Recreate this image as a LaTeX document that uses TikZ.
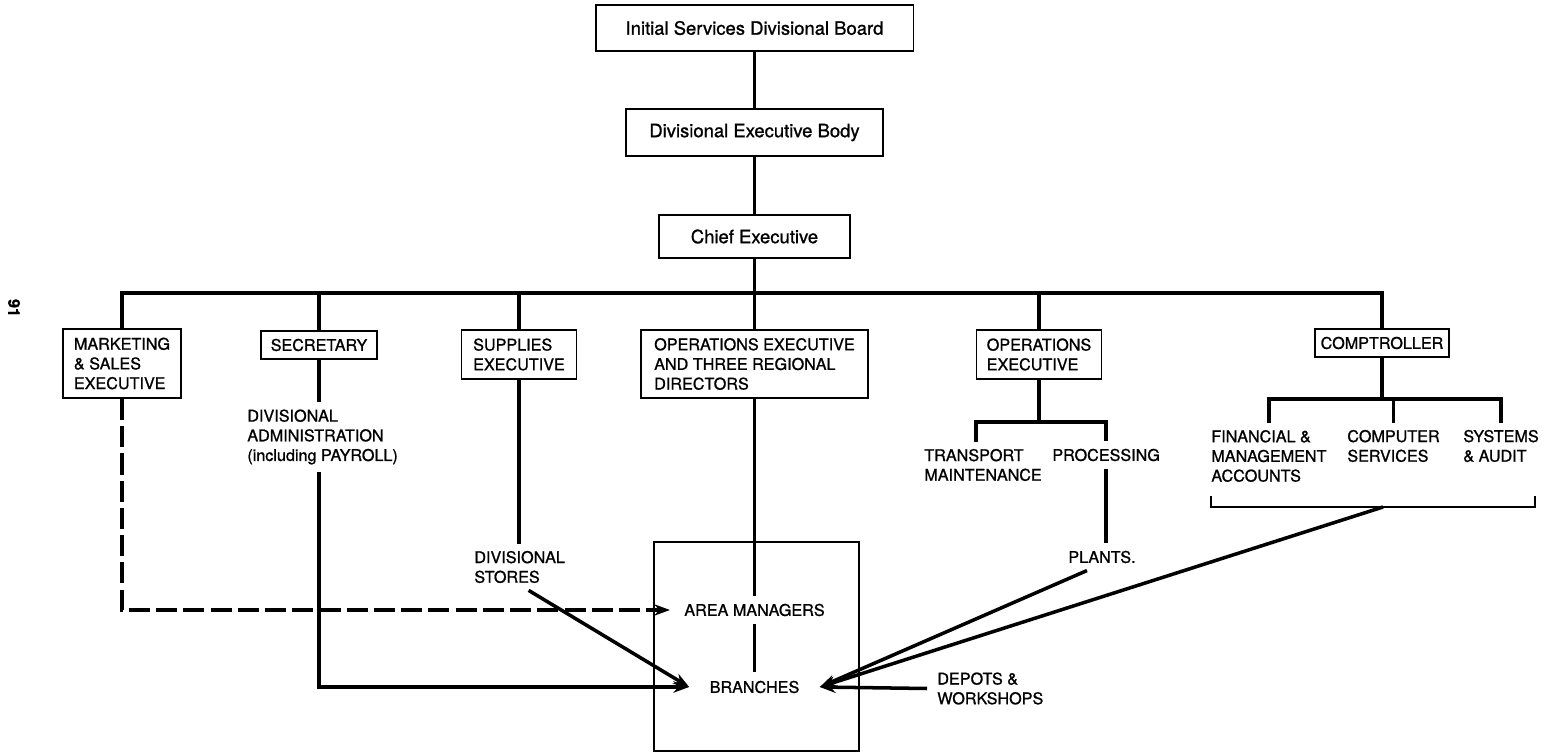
\documentclass[tikz,border=0pt]{standalone}
\usepackage{fontspec}
\setmainfont{TeX Gyre Heros}[FakeBold=1.0]
\usepackage{tikz}
\usetikzlibrary{arrows.meta}
\usepackage{xcolor}

\newcommand{\ttlfont}{\fontsize{10.5}{12.6}\selectfont}
\newcommand{\lblfont}{\fontsize{9.2}{11.2}\selectfont}

\tikzset{
    unit/.style={draw, line width=1.1pt, inner sep=0pt, align=left, font=\lblfont},
    ttl/.style={unit, align=center, font=\ttlfont},
    lbl/.style={inner xsep=0pt, inner ysep=4pt, align=left, font=\lblfont},
    link/.style={line width=2pt},
    arr/.style={link, -{Stealth[length=9pt, width=6.5pt]}},
    dashlink/.style={arr, dash pattern=on 12pt off 3.5pt}
}

\begin{document}
\begin{tikzpicture}[x=0.02cm, y=-0.02cm]
                \useasboundingbox (0,0) rectangle (1551,753);

                % board and executive chain
                \node[ttl, minimum width=6.36cm, minimum height=0.92cm] (board) at (754.5,28) {Initial Services Divisional Board};
                \node[ttl, minimum width=5.14cm, minimum height=0.94cm] (body) at (754.5,132.5) {Divisional Executive Body};
                \node[ttl, minimum width=3.82cm, minimum height=0.86cm] (chief) at (754.5,236.5) {Chief Executive};
                \coordinate (bus) at (754.5,293);

                \node[unit, minimum width=2.36cm, minimum height=1.38cm] (mkt) at (122,363.5) {MARKETING\\\& SALES\\EXECUTIVE};
                \node[unit, minimum width=2.32cm, minimum height=0.56cm] (sec) at (319,345) {SECRETARY};
                \node[unit, minimum width=2.30cm, minimum height=0.98cm] (sup) at (519,354.5) {SUPPLIES\\EXECUTIVE};
                \node[unit, minimum width=4.54cm, minimum height=1.36cm] (opsr) at (754.5,364) {OPERATIONS EXECUTIVE\\AND THREE REGIONAL\\DIRECTORS};
                \node[unit, minimum width=2.50cm, minimum height=0.98cm] (ops) at (1039,354.5) {OPERATIONS\\EXECUTIVE};
                \node[unit, minimum width=2.68cm, minimum height=0.56cm] (comp) at (1382,343) {COMPTROLLER};

                \node[lbl, anchor=west] (divadm) at (247,437) {DIVISIONAL\\ADMINISTRATION\\(including PAYROLL)};
                \node[lbl, anchor=west] (stores) at (474,567) {DIVISIONAL\\STORES};
                \node[lbl, anchor=west] (trans) at (924,465) {TRANSPORT\\MAINTENANCE};
                \node[lbl, anchor=west] (proc) at (1052,455) {PROCESSING};
                \node[lbl, anchor=west] (plants) at (1068,557) {PLANTS.};
                \node[lbl, anchor=west] (fin) at (1211,456) {FINANCIAL \&\\MANAGEMENT\\ACCOUNTS};
                \node[lbl, anchor=west] (cserv) at (1347,446) {COMPUTER\\SERVICES};
                \node[lbl, anchor=west] (sysa) at (1463,446) {SYSTEMS\\\& AUDIT};
                \node[lbl, anchor=west] (depots) at (937,688.5) {DEPOTS \&\\WORKSHOPS};

                \node[draw, line width=0.9pt, minimum width=4.10cm, minimum height=4.18cm] (area) at (756.5,646.5) {};
                \node[lbl, inner xsep=8pt, inner ysep=4.5pt] (amgr) at (754.5,610) {AREA MANAGERS};
                \node[lbl, inner xsep=11.5pt, inner ysep=5pt] (br) at (754.5,687) {BRANCHES};

                \node[font=\lblfont\bfseries, rotate=-90] (pgno) at (14,308) {91};

                % upper chain and main bus
                \draw[link] (board) -- (body);
                \draw[link] (body) -- (chief);
                \draw[link] (chief) -- (bus);
                \draw[link] (mkt.north) -- (mkt.north |- bus) -- (comp.north |- bus) -- (comp.north);
                \foreach \n in {sec,sup,opsr,ops} {
                        \draw[link] (\n.north) -- (\n.north |- bus);
                    }

                % lines down to area and branches
                \draw[dashlink] (mkt.south) |- (amgr.west);
                \draw[link] (sec.south) -- (sec.south |- divadm.north);
                \draw[arr] (sec.south |- divadm.south) |- (br.west);
                \draw[link] (sup.south) -- (sup.south |- stores.north);
                \draw[arr] ([xshift=0.18cm]stores.south) -- (br.west);
                \draw[link] (opsr.south) -- (amgr.north);
                \draw[link] (amgr.south) -- (br.north);

                \coordinate (opsfork) at (1039,422);
                \draw[link] (ops.south) -- (opsfork);
                \draw[link] ([xshift=-0.14cm]trans.north) |- (opsfork) -| (proc.north);
                \draw[link] (proc.south) -- (proc.south |- plants.north);
                \draw[arr] ([xshift=-0.3cm]plants.south) -- (br.east);

                \coordinate (compfork) at (1382,399);
                \draw[link] (comp.south) -- (compfork);
                \draw[link] (fin.north) |- (compfork) -| (sysa.north);
                \draw[link] (cserv.north) -- (cserv.north |- compfork);

                \coordinate (brkL) at (1211,496);
                \coordinate (brkR) at (1535,496);
                \coordinate (brkM) at (1383,507);
                \draw[line width=1.1pt] (brkL) |- (brkM) -| (brkR);
                \draw[arr] (brkM) -- (br.east);
                \draw[arr] ([xshift=-0.2cm]depots.west) -- (br.east);
            \end{tikzpicture}
\end{document}
